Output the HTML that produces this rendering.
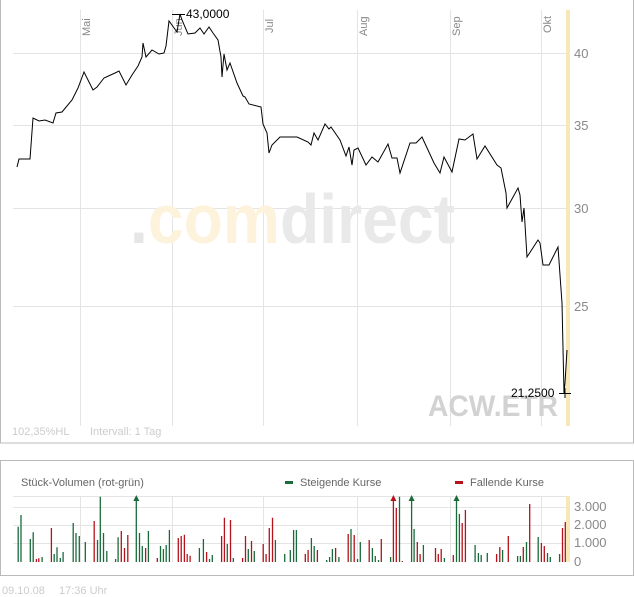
<!DOCTYPE html>
<html><head><meta charset="utf-8"><style>
html,body{margin:0;padding:0;background:#fff;}
svg{display:block;font-family:"Liberation Sans",sans-serif;}
</style></head><body>
<svg id="s" width="634" height="597" viewBox="0 0 634 597" xmlns="http://www.w3.org/2000/svg">
<rect x="0.5" y="-1" width="633" height="444" fill="none" stroke="#bbb"/>
<rect x="0.5" y="460.5" width="633" height="115" fill="none" stroke="#bbb"/>
<rect x="566" y="10" width="4" height="416" fill="#f8e8b8"/>
<g stroke="#e4e4e4" stroke-width="1">
<line x1="13" y1="53.5" x2="566" y2="53.5"/><line x1="13" y1="125.5" x2="566" y2="125.5"/>
<line x1="13" y1="208.5" x2="566" y2="208.5"/><line x1="13" y1="306.5" x2="566" y2="306.5"/>
<line x1="80.5" y1="10" x2="80.5" y2="426"/><line x1="172.5" y1="10" x2="172.5" y2="426"/>
<line x1="263.5" y1="10" x2="263.5" y2="426"/><line x1="357.5" y1="10" x2="357.5" y2="426"/>
<line x1="450.5" y1="10" x2="450.5" y2="426"/><line x1="541.5" y1="10" x2="541.5" y2="426"/>
<line x1="13" y1="496.5" x2="566" y2="496.5"/><line x1="13" y1="507.5" x2="566" y2="507.5"/>
<line x1="13" y1="525.5" x2="566" y2="525.5"/><line x1="13" y1="543.5" x2="566" y2="543.5"/>
<line x1="80.5" y1="496" x2="80.5" y2="562"/><line x1="172.5" y1="496" x2="172.5" y2="562"/>
<line x1="263.5" y1="496" x2="263.5" y2="562"/><line x1="357.5" y1="496" x2="357.5" y2="562"/>
<line x1="450.5" y1="496" x2="450.5" y2="562"/><line x1="541.5" y1="496" x2="541.5" y2="562"/>
</g>
<rect x="566" y="496" width="4" height="66" fill="#f8e8b8"/>
<text x="130" y="243" font-size="70" font-weight="bold" textLength="325" lengthAdjust="spacingAndGlyphs"><tspan fill="#e6e6e6">.</tspan><tspan fill="#fdf3dc">com</tspan><tspan fill="#e9e9e9">direct</tspan></text>
<text x="428" y="416" font-size="30" font-weight="bold" fill="#d2d2d2" textLength="130" lengthAdjust="spacingAndGlyphs">ACW.ETR</text>
<g font-size="11" fill="#888">
<text transform="translate(90,36) rotate(-90)">Mai</text>
<text transform="translate(182,36) rotate(-90)">Jun</text>
<text transform="translate(273,33) rotate(-90)">Jul</text>
<text transform="translate(367,36) rotate(-90)">Aug</text>
<text transform="translate(460,36) rotate(-90)">Sep</text>
<text transform="translate(551,33) rotate(-90)">Okt</text>
</g>
<g font-size="13" fill="#888">
<text x="574" y="58">40</text><text x="574" y="130">35</text>
<text x="574" y="213">30</text><text x="574" y="311">25</text>
<text x="574" y="511">3.000</text><text x="574" y="529">2.000</text>
<text x="574" y="547">1.000</text><text x="574" y="566">0</text>
</g>
<text x="12" y="435" font-size="11" fill="#ccc">102,35%HL</text>
<text x="90" y="435" font-size="11" fill="#ccc">Intervall: 1 Tag</text>
<text x="2" y="594" font-size="11" fill="#ccc">09.10.08</text>
<text x="59" y="594" font-size="11" fill="#ccc">17:36 Uhr</text>
<text x="21" y="486" font-size="11" fill="#666">Stück-Volumen (rot-grün)</text>
<rect x="285" y="481" width="8" height="3" fill="#1a6b3c"/>
<text x="300" y="486" font-size="11" fill="#666">Steigende Kurse</text>
<rect x="455" y="481" width="8" height="3" fill="#b5121b"/>
<text x="470" y="486" font-size="11" fill="#666">Fallende Kurse</text>
<polyline fill="none" stroke="#000" stroke-width="1" points="17,167 19,159 30,159 33,118 39,121 45,120 53,123 56,113 62,112 72,100 78,88 84,72 93,90 97,87 104,78 115,73 119,71 126,85 132,75 138,66 142,57 143,43 146,57 152,50 159,54 164,53 166,46 169,21 177,32 180,14 182,20 188,34 195,33 200,28 204,34 209,27 213,33 218,40 221,57 222,77 224,54 227,70 230,63 237,83 243,96 245,97 249,104 261,107 263,124 267,133 269,153 272,145 280,137 297,137 308,142 311,145 314,133 318,140 325,124 329,129 331,127 340,140 346,156 349,147 352,165 354,150 358,148 366,165 372,157 378,162 388,144 392,158 397,158 400,173 410,143 416,143 422,137 434,163 440,173 444,157 452,172 459,139 465,140 473,134 477,159 485,146 497,165 501,168 506,193 507,208 518,188 520,195 522,222 524,208 527,257 538,240 540,243 543,265 549,265 558,247 562,303 564,393 565,383 567,350"/>
<line x1="172" y1="14.5" x2="185" y2="14.5" stroke="#000"/>
<text x="186" y="18" font-size="12" fill="#000">43,0000</text>
<line x1="559" y1="393.5" x2="571" y2="393.5" stroke="#000"/>
<line x1="565" y1="388" x2="565" y2="398" stroke="#000"/>
<text x="511" y="397" font-size="12" fill="#000">21,2500</text>
<g id="vol"></g>
</svg>
<script>
var d="g45,440 g52,405 g75,477 g82,457 r90,537 r96,535 g104,531 r127,444 g134,522 g141,502 g149,534 g156,516 g181,429 g188,459 g196,468 g211,486 r233,423 g241,480 g248,350 g256,459 g264,513 g286,537 g292,472 r300,453 r308,504 r316,465 G337,350 g345,459 g352,498 r360,504 g367,453 r389,534 g397,498 g404,507 g411,495 g419,450 r441,474 r448,468 r456,464 r463,522 r470,527 g493,504 g503,477 r511,516 g518,537 g525,525 r548,468 r555,413 g562,492 r570,420 g577,534 r600,534 r607,468 g614,507 r622,483 g629,513 r651,492 r658,522 r666,444 r674,413 g681,480 g704,522 g718,510 g726,450 g733,450 r755,522 r762,510 g770,474 g777,498 r785,510 g808,540 g815,531 g822,507 r830,504 g838,531 r861,462 g868,447 r876,465 g884,537 g891,486 r913,480 g921,504 g928,528 g936,540 r943,477 g966,531 R973,350 r980,384 g988,350 r995,543 G1018,350 g1024,447 r1032,486 r1039,522 g1047,495 r1077,504 r1084,522 r1091,507 g1099,534 r1121,525 G1129,350 g1136,402 r1143,429 r1151,390 g1175,495 g1183,519 g1190,525 g1205,519 r1228,522 r1236,501 g1243,510 r1257,468 g1280,528 g1287,528 r1294,501 g1302,486 r1310,372 g1331,471 r1339,489 r1346,498 g1354,519 g1361,531 g1384,522 r1391,444 r1398,426";
var ns="http://www.w3.org/2000/svg",g=document.getElementById("vol"),pg="",pr="";
d.split(" ").forEach(function(t){var c=t[0],a=t.slice(1).split(","),x=(+a[0]/2.473).toFixed(1),y=(380+(+a[1])/3).toFixed(1);
var s="M"+x+" "+y+"V562 ";if(c=="g"||c=="G")pg+=s;else pr+=s;
if(c=="G"||c=="R"){var col=c=="G"?"#1a6b3c":"#b5121b";var p=document.createElementNS(ns,"path");p.setAttribute("d","M"+(x-3)+" 501L"+x+" 495L"+(+x+3)+" 501Z");p.setAttribute("fill",col);g.appendChild(p);}});
function mk(dd,col){var p=document.createElementNS(ns,"path");p.setAttribute("d",dd);p.setAttribute("stroke",col);p.setAttribute("stroke-width","1.3");g.insertBefore(p,g.firstChild);}
mk(pg,"#1a6b3c");mk(pr,"#b5121b");
</script>
</body></html>
